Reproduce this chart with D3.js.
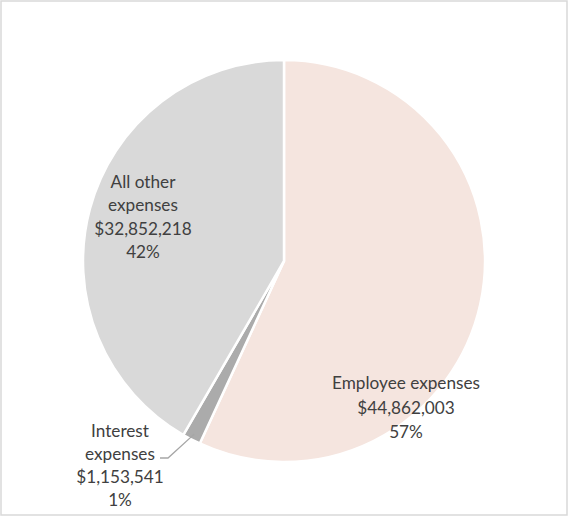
<!DOCTYPE html>
<html><head><meta charset="utf-8">
<script src="https://cdn.jsdelivr.net/npm/d3@7"></script>
<style>html,body{margin:0;padding:0;background:#fff;}svg{display:block;}</style>
</head><body>
<svg id="c" width="568" height="516"></svg>
<script>
const categories = ["Employee expenses", "Interest expenses", "All other expenses"];
const values = [44862003, 1153541, 32852218];
const percents = ["57%", "1%", "42%"];
const colors = ["#f5e5df", "#ababab", "#d9d9d9"];

const svg = d3.select("#c");
svg.append("rect").attr("x",1).attr("y",1).attr("width",566).attr("height",514)
  .attr("fill","#fff").attr("stroke","#d9d9d9").attr("stroke-width",1.5);

const cx = 284, cy = 261, r = 201;
const data = categories.map((c,i)=>({name:c, value:values[i], pct:percents[i], color:colors[i]}));
const pie = d3.pie().value(d=>d.value).sort(null);
const arc = d3.arc().innerRadius(0).outerRadius(r);
const arcs = pie(data);
const g = svg.append("g").attr("transform",`translate(${cx},${cy})`);
g.selectAll("path").data(arcs).join("path")
  .attr("d",arc).attr("fill",d=>d.data.color)
  .attr("stroke","#fff").attr("stroke-width",2.5).attr("stroke-linejoin","round");

const fmt = d3.format("$,");
const font = "Lato, 'Open Sans', sans-serif";
function label(x, y, lines, lh){
  const t = svg.append("text").attr("x",x).attr("y",y).attr("text-anchor","middle")
    .attr("font-family",font).attr("font-size",17.2).attr("fill","#404040");
  lines.forEach((l,i)=>t.append("tspan").attr("x",x).attr("dy", i===0?0:lh).text(l));
}
const d0 = data[0], d1 = data[1], d2 = data[2];
label(406, 389, ["Employee expenses", fmt(d0.value), d0.pct], 24.5);
label(143, 188, ["All other", "expenses", fmt(d2.value), d2.pct], 23.3);
label(120, 437, ["Interest", "expenses", fmt(d1.value), d1.pct], 23);

// leader line for interest slice
const mid = (arcs[1].startAngle + arcs[1].endAngle)/2;
const ex = cx + Math.sin(mid)*(r-6), ey = cy - Math.cos(mid)*(r-6);
svg.append("polyline")
  .attr("points", `160,458 168,458 ${ex},${ey}`)
  .attr("fill","none").attr("stroke","#a6a6a6").attr("stroke-width",1.3);
</script>
</body></html>
